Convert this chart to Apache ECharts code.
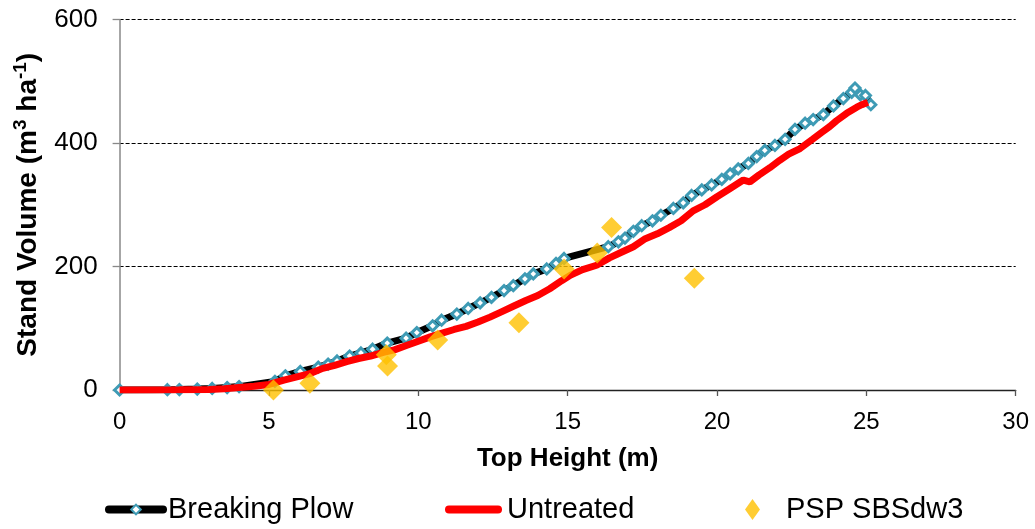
<!DOCTYPE html>
<html>
<head>
<meta charset="utf-8">
<script src="https://cdn.jsdelivr.net/npm/echarts@6/dist/echarts.min.js"></script>
<style>
  html, body { margin: 0; padding: 0; background: #fff; }
  #chart { width: 1035px; height: 529px; }
</style>
</head>
<body>
<div id="chart"></div>
<script>
// Top height (m) and stand volume (m3/ha) per treatment
const breakingPlowHeight = [0, 1.6, 2.0, 2.6, 3.1, 3.6, 4.0, 5.2, 5.55, 6.05, 6.65, 6.98, 7.28, 7.7, 8.08, 8.47, 8.96, 9.59, 9.95, 10.48, 10.78, 11.29, 11.67, 12.07, 12.45, 12.87, 13.18, 13.57, 13.85, 14.3, 14.61, 14.88, 16.36, 16.7, 16.92, 17.2, 17.48, 17.84, 18.12, 18.54, 18.87, 19.15, 19.49, 19.82, 20.16, 20.44, 20.71, 21.05, 21.33, 21.6, 21.94, 22.28, 22.61, 22.95, 23.22, 23.56, 23.9, 24.23, 24.51, 24.62, 24.8, 24.97, 25.15];
const breakingPlowVolume = [0, 0.5, 0.8, 1.5, 2.5, 4, 5.5, 14, 23, 30, 37, 42, 47, 55, 60, 66, 76, 84, 93, 104, 113, 123, 132, 141, 150, 161, 169, 180, 188, 196, 205, 213, 232, 240, 246, 257, 266, 274, 283, 294, 303, 315, 324, 332, 341, 350, 358, 367, 378, 388, 396, 406, 422, 432, 438, 446, 460, 472, 482, 489, 478, 477, 462];

const untreatedHeight = [0, 1.0, 2.0, 3.0, 3.5, 4.0, 4.5, 5.0, 5.5, 6.0, 6.4, 6.8, 7.2, 7.6, 8.0, 8.4, 8.83, 9.2, 9.6, 10.0, 10.4, 10.8, 11.2, 11.6, 12.0, 12.4, 12.8, 13.2, 13.6, 14.0, 14.4, 14.8, 15.1, 15.5, 15.97, 16.4, 16.8, 17.2, 17.6, 18.0, 18.4, 18.8, 19.2, 19.6, 20.0, 20.4, 20.88, 21.1, 21.4, 21.77, 22.1, 22.4, 22.78, 23.2, 23.5, 23.78, 24.0, 24.34, 24.68, 24.85, 25.05];
const untreatedVolume = [0, 0, 0.3, 1, 2, 4, 6, 9, 16, 22, 27, 35, 40, 46, 51, 55, 61, 65, 72, 79, 86, 92, 98, 103, 110, 118, 127, 136, 145, 153, 164, 177, 186, 195, 202, 214, 223, 232, 245, 253, 263, 274, 290, 300, 313, 325, 340, 337, 348, 360, 372, 382, 391, 406, 417, 427, 436, 448, 458, 462, 466];

// Permanent sample plot observations
const pspHeight = [5.15, 6.37, 8.93, 8.97, 10.65, 13.37, 14.88, 15.99, 16.47, 19.24];
const pspVolume = [0, 11, 57, 39, 81, 109, 196, 222, 263, 181];

const xTicks = { min: 0, max: 30, interval: 5 };
const yTicks = { min: 0, max: 600, interval: 200 };

const seriesNames = ['Breaking Plow', 'Untreated', 'PSP SBSdw3'];

const pairs = (xs, ys) => xs.map((x, i) => [x, ys[i]]);

const FONT = '"Liberation Sans", Arial, sans-serif';

const chart = echarts.init(document.getElementById('chart'), null, { renderer: 'canvas' });

const legendText = { fontFamily: FONT, fontSize: 29, color: '#000' };
// pill-shaped swatch for the plain red line
const pill = 'path://M4,0 L53,0 A4,4 0 0 1 53,8 L4,8 A4,4 0 0 1 4,0 Z';

chart.setOption({
  animation: false,
  backgroundColor: '#fff',
  grid: { left: 119.6, right: 19.3, top: 19.5, bottom: 139, containLabel: false },
  legend: [
    {
      data: [seriesNames[0]], left: 105, top: 495, padding: 0,
      itemWidth: 54, itemHeight: 12,
      lineStyle: { width: 8, cap: 'round' },
      textStyle: legendText, selectedMode: false
    },
    {
      data: [{ name: seriesNames[1], icon: pill }], left: 445, top: 495, padding: 0,
      itemWidth: 57, itemHeight: 8,
      textStyle: legendText, selectedMode: false
    },
    {
      data: [{ name: seriesNames[2], icon: 'diamond' }], left: 745, top: 495, padding: 0,
      itemWidth: 15, itemHeight: 21,
      textStyle: Object.assign({ padding: [0, 0, 0, 21] }, legendText), selectedMode: false
    }
  ],
  xAxis: {
    type: 'value',
    min: xTicks.min, max: xTicks.max, interval: xTicks.interval,
    name: 'Top Height (m)',
    nameLocation: 'middle',
    nameGap: 56,
    nameTextStyle: { fontFamily: FONT, fontSize: 26, fontWeight: 'bold', color: '#000' },
    axisLine: { show: true, onZero: false, lineStyle: { color: '#222', width: 1.3 } },
    axisTick: { show: true, inside: false, length: 6, lineStyle: { color: '#555', width: 1.3 } },
    axisLabel: { fontFamily: FONT, fontSize: 24, color: '#000', margin: 20 },
    splitLine: { show: false }
  },
  yAxis: {
    type: 'value',
    min: yTicks.min, max: yTicks.max, interval: yTicks.interval,
    name: '{b|Stand Volume (m}{s|3}{b| ha}{s|-1}{b|)}',
    nameLocation: 'middle',
    nameGap: 74,
    nameTextStyle: {
      fontFamily: FONT, fontSize: 28, fontWeight: 'bold', color: '#000',
      rich: {
        b: { fontFamily: FONT, fontSize: 28, fontWeight: 'bold', color: '#000', lineHeight: 34 },
        s: { fontFamily: FONT, fontSize: 19, fontWeight: 'bold', color: '#000', verticalAlign: 'top' }
      }
    },
    axisLine: { show: true, lineStyle: { color: '#888', width: 1.5 } },
    axisTick: { show: true, inside: false, length: 7, lineStyle: { color: '#888', width: 1.3 } },
    axisLabel: { fontFamily: FONT, fontSize: 26, color: '#000', margin: 22 },
    splitLine: { show: true, lineStyle: { color: '#000', width: 1, type: [4, 2] } }
  },
  series: [
    {
      name: seriesNames[0],
      type: 'line',
      data: pairs(breakingPlowHeight, breakingPlowVolume),
      lineStyle: { color: '#000', width: 7 },
      itemStyle: { color: '#fff', borderColor: '#3E9BB5', borderWidth: 3 },
      symbol: 'diamond',
      symbolSize: 10,
      showAllSymbol: true,
      z: 2
    },
    {
      name: seriesNames[1],
      type: 'line',
      data: pairs(untreatedHeight, untreatedVolume),
      lineStyle: { color: '#FF0000', width: 7 },
      itemStyle: { color: '#FF0000' },
      symbol: 'none',
      z: 3
    },
    {
      name: seriesNames[2],
      type: 'scatter',
      data: pairs(pspHeight, pspVolume),
      symbol: 'diamond',
      symbolSize: 21,
      itemStyle: { color: '#FFC000' },
      z: 4
    }
  ]
});
</script>
</body>
</html>
